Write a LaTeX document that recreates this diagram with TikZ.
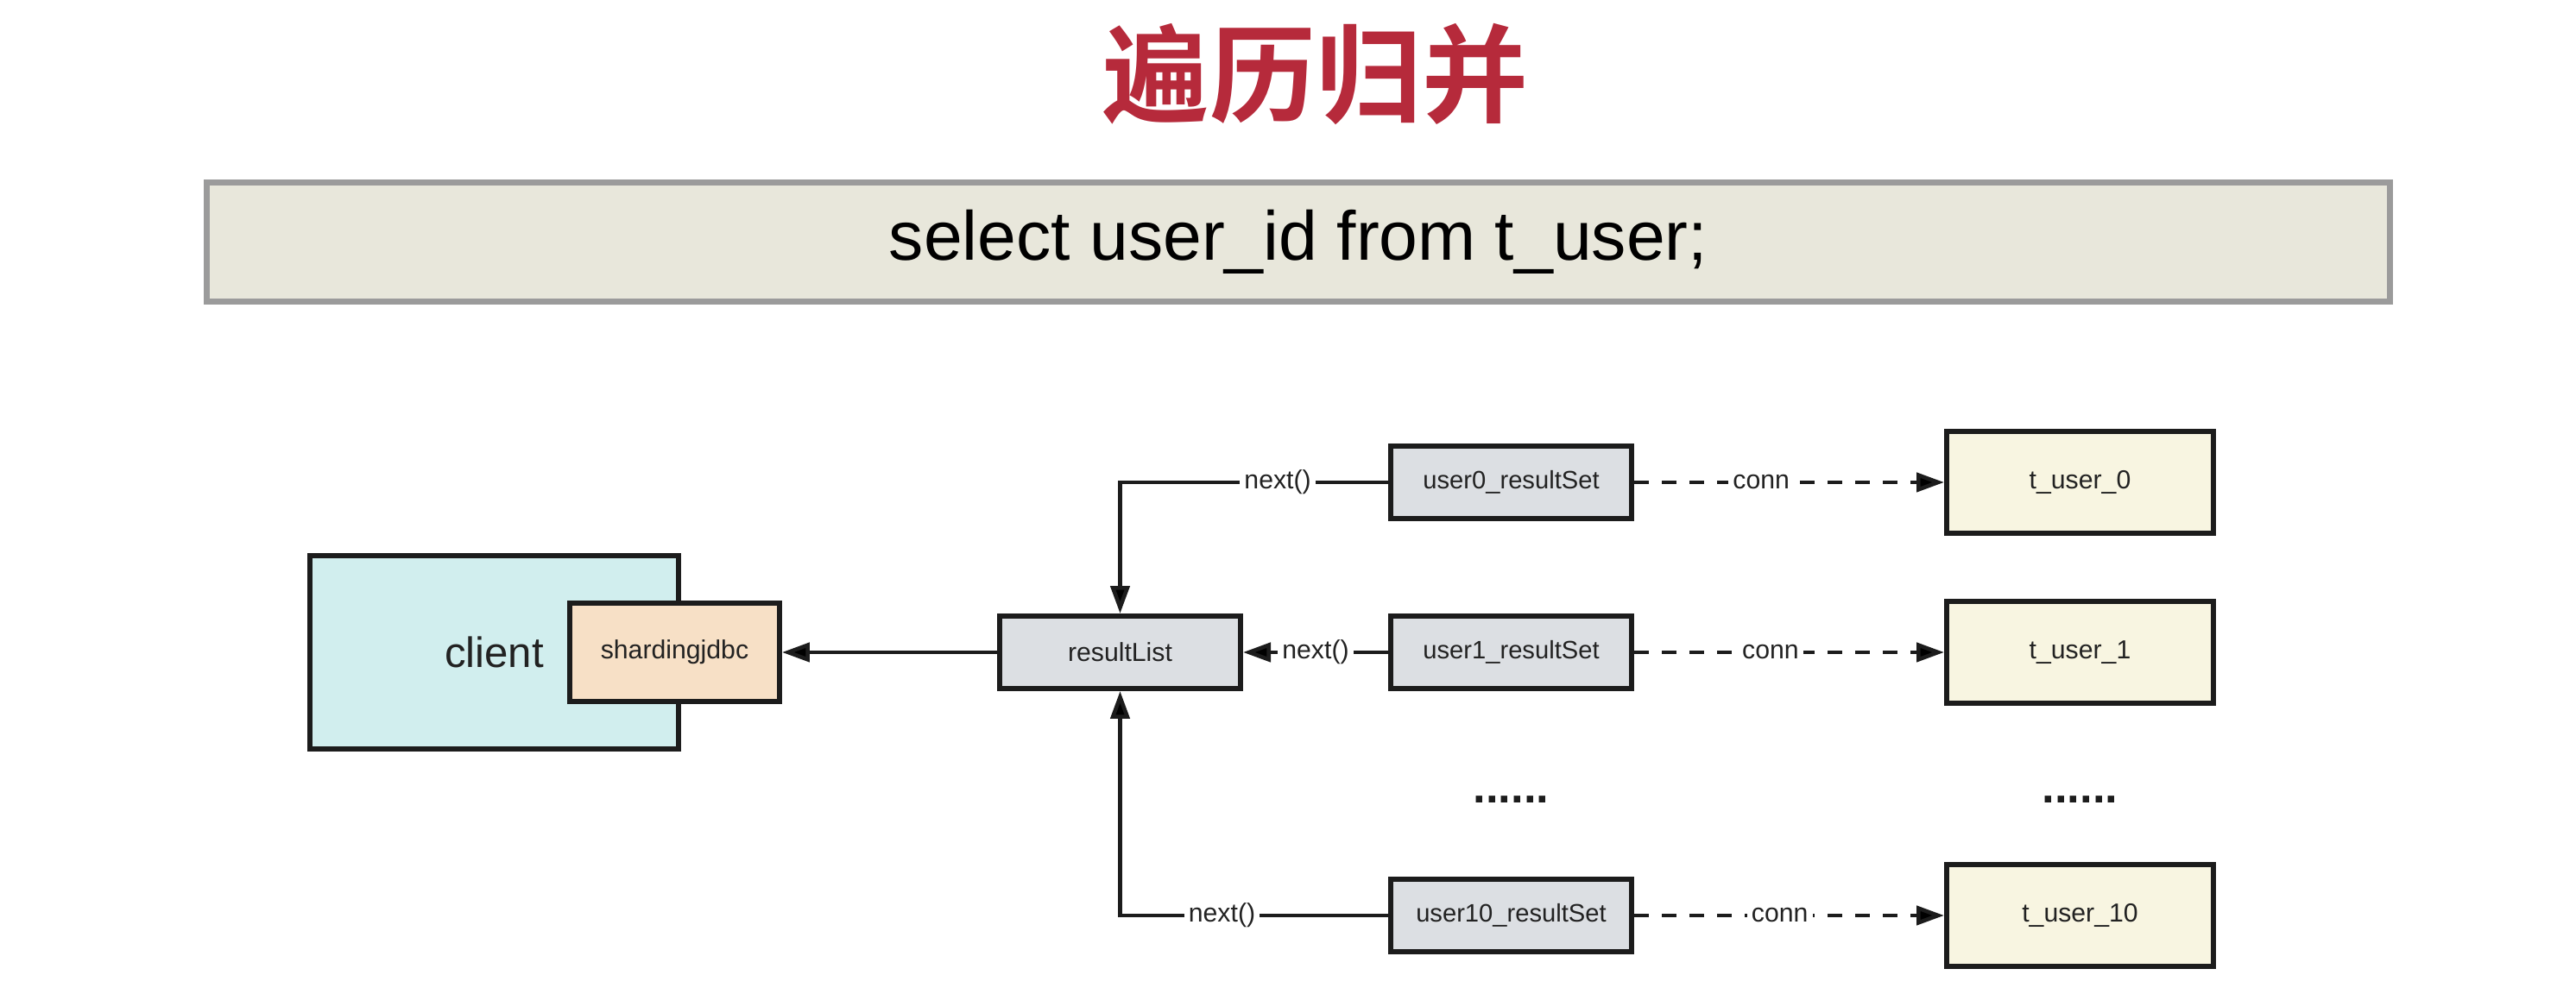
\documentclass[tikz,border=0pt]{standalone}
\usepackage{fontspec}
\setsansfont{Liberation Sans}
\newfontfamily\cjk[BoldFont={Noto Sans CJK SC Bold}]{Noto Sans CJK SC}
\usetikzlibrary{arrows.meta}
\definecolor{titlered}{HTML}{B62A3B}
\definecolor{sqlfill}{HTML}{E8E7DB}
\definecolor{sqlborder}{HTML}{9B9B9B}
\definecolor{boxline}{HTML}{1C1C1C}
\definecolor{textdark}{HTML}{222222}
\definecolor{clientcyan}{HTML}{D1EEEE}
\definecolor{jdbcpeach}{HTML}{F7E0C6}
\definecolor{setgray}{HTML}{DCDFE3}
\definecolor{tablecream}{HTML}{F8F5E1}

\begin{document}
\begin{tikzpicture}[>={Triangle[length=3.2mm,width=2.2mm]},
                    box node/.style={rectangle,draw=boxline,line width=1.7pt,inner sep=0pt,text=textdark,
                                     font=\sffamily\fontsize{8.6}{10}\selectfont},
                    client node/.style={box node,fill=clientcyan,minimum width=4.27cm,minimum height=2.24cm,
                                        font=\sffamily\fontsize{14}{16}\selectfont},
                    jdbc node/.style={box node,fill=jdbcpeach,minimum width=2.43cm,minimum height=1.14cm},
                    set node/.style={box node,fill=setgray,minimum width=2.79cm,minimum height=0.84cm,
                                     font=\sffamily\fontsize{8.3}{10}\selectfont},
                    table node/.style={box node,fill=tablecream,minimum width=3.09cm,minimum height=1.18cm},
                    label node/.style={fill=white,inner sep=1.5pt,text=textdark,font=\sffamily\fontsize{8.6}{10}\selectfont},
                    dots node/.style={text=boxline,font=\sffamily\bfseries\fontsize{15}{17}\selectfont}]

  \useasboundingbox (0,0) rectangle (29.84,11.52);

  \node[font=\cjk\bfseries\fontsize{35}{40}\selectfont,text=titlered] (title) at (15.24,10.66) {遍历归并};
  \node[draw=sqlborder,line width=0.07cm,fill=sqlfill,minimum width=25.29cm,minimum height=1.38cm,
        font=\sffamily\fontsize{22.9}{26}\selectfont] (sql) at (15.04,8.715) {select user\_id from t\_user;};

  \node[client node] (client) at (5.725,3.96) {client};
  \node[jdbc node] (jdbc) at (7.815,3.96) {shardingjdbc};
  \node[set node,font=\sffamily\fontsize{8.6}{10}\selectfont] (rl) at (12.975,3.96) {resultList};

  \node[set node] (u0) at (17.505,5.93) {user0\_resultSet};
  \node[set node] (u1) at (17.505,3.96) {user1\_resultSet};
  \node[dots node] (dotsa) at (17.505,2.25) {......};
  \node[set node] (u10) at (17.505,0.91) {user10\_resultSet};

  \node[table node] (t0) at (24.095,5.93) {t\_user\_0};
  \node[table node] (t1) at (24.095,3.96) {t\_user\_1};
  \node[dots node] (dotsb) at (24.095,2.25) {......};
  \node[table node] (t10) at (24.095,0.91) {t\_user\_10};

  \path[line width=1.3pt,draw=boxline,every node/.style={label node}]
  (rl) edge[->] (jdbc)
  (u0) edge[->,to path={-| (\tikztotarget) \tikztonodes}] node[pos=0.206] {next()} (rl)
  (u1) edge[->] node[pos=0.5] {next()} (rl)
  (u10) edge[->,to path={-| (\tikztotarget) \tikztonodes}] node[pos=0.31] {next()} (rl)
  ;

  \path[line width=1.3pt,draw=boxline,dash pattern=on 0.17cm off 0.15cm,every node/.style={label node}]
  (u0) edge[->] node[pos=0.41] {conn} (t0)
  (u1) edge[->] node[pos=0.44] {conn} (t1)
  (u10) edge[->] node[pos=0.47] {conn} (t10)
  ;
\end{tikzpicture}
\end{document}
